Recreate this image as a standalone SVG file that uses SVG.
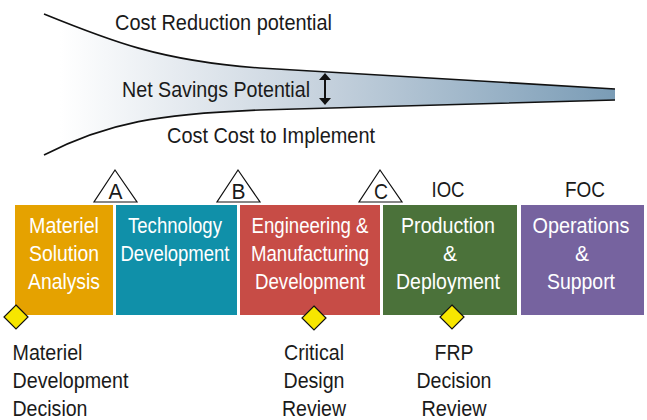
<svg xmlns="http://www.w3.org/2000/svg" width="647" height="420" viewBox="0 0 647 420">
  <style>
    text { font-family: "Liberation Sans", Arial, sans-serif; font-size: 22px; }
    .dark { fill: #1a1a1a; }
    .w { fill: #ffffff; text-anchor: middle; }
    .c { text-anchor: middle; }
    .curve { fill: none; stroke: #111; stroke-width: 1.6; }
    .tri { fill: #ffffff; stroke: #111; stroke-width: 1.2; }
    .dia { fill: #f7e600; stroke: #111; stroke-width: 1.2; }
  </style>
  <defs>
    <linearGradient id="fg" gradientUnits="userSpaceOnUse" x1="60" y1="0" x2="615" y2="0">
      <stop offset="0" stop-color="#ffffff"/>
      <stop offset="0.45" stop-color="#c9d4df"/>
      <stop offset="1" stop-color="#7a9cb6"/>
    </linearGradient>
  </defs>
  <rect width="647" height="420" fill="#ffffff"/>

  <g id="funnel">
    <path d="M44,14 C108,40 160,61 260,68 L615,89 L615,100 L260,110 C160,114 108,122 44,155 Z" fill="url(#fg)"/>
    <path class="curve" d="M44,14 C108,40 160,61 260,68 L615,89"/>
    <path class="curve" d="M44,155 C108,122 160,114 260,110 L615,100"/>
    <path d="M325,79 L325,99" stroke="#111" stroke-width="2" fill="none"/>
    <polygon points="319,80 331,80 325,73" fill="#111"/>
    <polygon points="319,98 331,98 325,105" fill="#111"/>
    <text class="dark" x="115" y="30" textLength="217" lengthAdjust="spacingAndGlyphs">Cost Reduction potential</text>
    <text class="dark" x="122" y="97" textLength="188" lengthAdjust="spacingAndGlyphs">Net Savings Potential</text>
    <text class="dark" x="167" y="143" textLength="208" lengthAdjust="spacingAndGlyphs">Cost Cost to Implement</text>
  </g>

  <g id="msa">
    <rect x="15" y="205" width="98" height="110" fill="#e5a200"/>
    <text class="w" x="64" y="233" textLength="70" lengthAdjust="spacingAndGlyphs">Materiel</text>
    <text class="w" x="64" y="261" textLength="70" lengthAdjust="spacingAndGlyphs">Solution</text>
    <text class="w" x="64" y="289" textLength="72" lengthAdjust="spacingAndGlyphs">Analysis</text>
  </g>
  <g id="td">
    <rect x="116" y="205" width="121" height="110" fill="#1090a9"/>
    <text class="w" x="175" y="233" textLength="94" lengthAdjust="spacingAndGlyphs">Technology</text>
    <text class="w" x="175" y="261" textLength="109" lengthAdjust="spacingAndGlyphs">Development</text>
  </g>
  <g id="emd">
    <rect x="240" y="205" width="140" height="110" fill="#c74c46"/>
    <text class="w" x="310" y="233" textLength="117" lengthAdjust="spacingAndGlyphs">Engineering &amp;</text>
    <text class="w" x="310" y="261" textLength="118" lengthAdjust="spacingAndGlyphs">Manufacturing</text>
    <text class="w" x="310" y="289" textLength="110" lengthAdjust="spacingAndGlyphs">Development</text>
  </g>
  <g id="pd">
    <rect x="383" y="205" width="134" height="110" fill="#4b723a"/>
    <text class="w" x="448" y="233" textLength="94" lengthAdjust="spacingAndGlyphs">Production</text>
    <text class="w" x="450" y="261" textLength="14" lengthAdjust="spacingAndGlyphs">&amp;</text>
    <text class="w" x="448" y="289" textLength="104" lengthAdjust="spacingAndGlyphs">Deployment</text>
  </g>
  <g id="os">
    <rect x="521" y="205" width="123" height="110" fill="#76639f"/>
    <text class="w" x="581" y="233" textLength="97" lengthAdjust="spacingAndGlyphs">Operations</text>
    <text class="w" x="582" y="261" textLength="14" lengthAdjust="spacingAndGlyphs">&amp;</text>
    <text class="w" x="581" y="289" textLength="68" lengthAdjust="spacingAndGlyphs">Support</text>
  </g>

  <g id="milestone-a">
    <polygon class="tri" points="115,170 137,202 94,202"/>
    <text class="dark c" x="115.5" y="199" textLength="14" lengthAdjust="spacingAndGlyphs">A</text>
  </g>
  <g id="milestone-b">
    <polygon class="tri" points="238,170 260,202 217,202"/>
    <text class="dark c" x="238.5" y="199" textLength="14" lengthAdjust="spacingAndGlyphs">B</text>
  </g>
  <g id="milestone-c">
    <polygon class="tri" points="380,170 402,202 359,202"/>
    <text class="dark c" x="381" y="199" textLength="14" lengthAdjust="spacingAndGlyphs">C</text>
  </g>
  <g id="ioc">
    <text class="dark c" x="448" y="197" textLength="33" lengthAdjust="spacingAndGlyphs">IOC</text>
  </g>
  <g id="foc">
    <text class="dark c" x="585" y="197" textLength="40" lengthAdjust="spacingAndGlyphs">FOC</text>
  </g>

  <g id="mdd">
    <polygon class="dia" points="16,305 28,317 16,329 4,317"/>
    <text class="dark" x="12.5" y="360" textLength="70" lengthAdjust="spacingAndGlyphs">Materiel</text>
    <text class="dark" x="12.5" y="388" textLength="116" lengthAdjust="spacingAndGlyphs">Development</text>
    <text class="dark" x="12.5" y="416" textLength="75" lengthAdjust="spacingAndGlyphs">Decision</text>
  </g>
  <g id="cdr">
    <polygon class="dia" points="314,306 326,318 314,330 302,318"/>
    <text class="dark c" x="314" y="360" textLength="60" lengthAdjust="spacingAndGlyphs">Critical</text>
    <text class="dark c" x="314" y="388" textLength="61" lengthAdjust="spacingAndGlyphs">Design</text>
    <text class="dark c" x="314" y="416" textLength="64" lengthAdjust="spacingAndGlyphs">Review</text>
  </g>
  <g id="frp">
    <polygon class="dia" points="452,305 464,317 452,329 440,317"/>
    <text class="dark c" x="454" y="360" textLength="39" lengthAdjust="spacingAndGlyphs">FRP</text>
    <text class="dark c" x="454" y="388" textLength="75" lengthAdjust="spacingAndGlyphs">Decision</text>
    <text class="dark c" x="454" y="416" textLength="65" lengthAdjust="spacingAndGlyphs">Review</text>
  </g>

  <g id="connectors"></g>
</svg>
